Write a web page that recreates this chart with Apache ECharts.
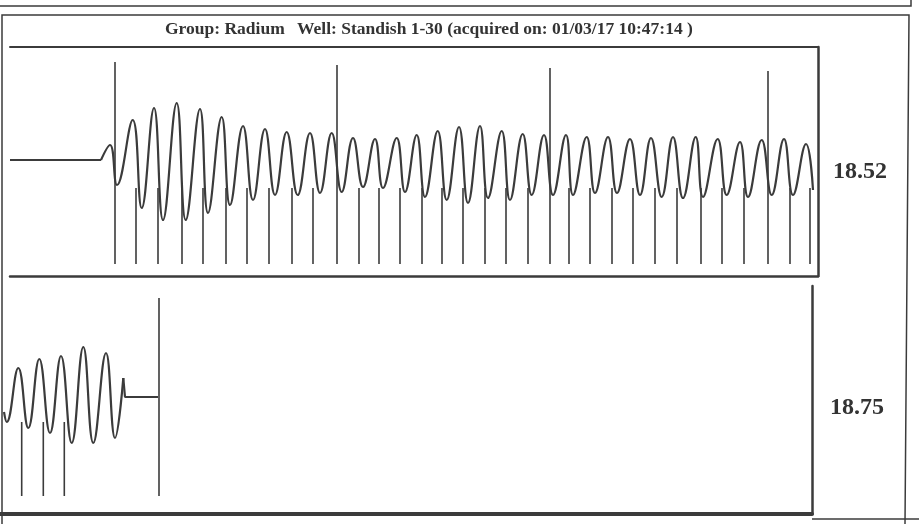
<!DOCTYPE html>
<html>
<head>
<meta charset="utf-8">
<script src="https://cdn.jsdelivr.net/npm/echarts@6/dist/echarts.min.js"></script>
<style>
  html, body { margin: 0; padding: 0; background: #fff; }
  #chart { width: 919px; height: 524px; }
</style>
</head>
<body>
<div id="chart"></div>
<script>
// Header
const titleGroup = 'Group: Radium';
const titleWell = 'Well: Standish 1-30 (acquired on: 01/03/17 10:47:14 )';
const depthLabels = ['18.52', '18.75'];

// Trace 1 (18.52) - flat lead-in, then extremes of the waveform (time, amplitude)
const topFlatTimes = [10, 101];
const topFlatAmps = [0, 0];
const topWaveTimes = [101, 110, 117, 132.7, 141.7, 154, 163, 176.7, 185.7, 200, 208, 221.7, 230, 243, 253,
  265, 275, 286.7, 297.7, 310, 320, 331.7, 341.7, 353, 363, 375, 383, 396.7, 405, 416.7, 425, 437.7, 446.7,
  459, 468, 480, 488, 501.7, 510, 522.7, 531.7, 544, 553, 566, 573, 586.7, 595, 608, 617, 630, 640, 651,
  661.7, 673, 683, 695.7, 703, 717.7, 726.7, 740, 748, 761.7, 771.7, 784, 793, 806, 813];
const topWaveAmps = [0, 15, -25, 40, -48, 52, -60, 57, -60, 51, -53, 43, -45, 34, -40,
  31, -35, 28, -35, 27, -33, 27, -32, 22, -27, 21, -28, 22, -32, 25, -37, 29, -40,
  33, -43, 34, -38, 29, -40, 26, -35, 25, -35, 25, -35, 23, -33, 23, -33, 21, -35, 22,
  -37, 23, -38, 23, -37, 21, -35, 18, -37, 20, -35, 21, -35, 16, -30];
// timing marks of trace 1
const topShortMarks = [136, 158, 182, 203, 226, 247, 269, 292, 313, 359, 379, 400, 422, 442, 463, 485,
  506, 528, 569, 590, 612, 633, 655, 677, 701, 722, 744, 790, 810];
const topTallMarks = [115, 337, 550, 768];
const topTallMarkTops = [98, 95, 92, 89];
const topMarkTop = -28;
const topMarkBottom = -104;

// Trace 2 (18.75)
const bottomWaveTimes = [4, 6.7, 18.3, 28.3, 39.3, 50, 61, 71.7, 83.3, 93.3, 106, 115, 123.3];
const bottomWaveAmps = [-15, -25, 29, -31, 38, -36, 41, -46, 50, -46, 44, -41, 19];
const bottomTailTimes = [125, 158];
const bottomTailAmps = [0, 0];
const bottomShortMarks = [21.7, 43.3, 64.3];
const bottomTallMarks = [159];
const bottomTallMarkTops = [99];
const bottomMarkTop = -25;
const bottomMarkBottom = -99;

const INK = '#3b3b3b';

function pairs(xs, ys) {
  return xs.map((x, i) => [x, ys[i]]);
}

// vertical strokes as one broken line: top, bottom, gap
function markData(xs, tops, bottom) {
  const out = [];
  xs.forEach((x, i) => {
    const top = Array.isArray(tops) ? tops[i] : tops;
    out.push([x, top], [x, bottom], [x, null]);
  });
  return out;
}

// plain axis that only draws its line (the trace box edges)
function edgeAxis(gridIndex, min, max, position, width) {
  return {
    type: 'value', gridIndex: gridIndex, min: min, max: max, position: position,
    axisLine: { show: true, onZero: false, lineStyle: { color: INK, width: width } },
    axisTick: { show: false }, axisLabel: { show: false }, splitLine: { show: false }
  };
}

const chart = echarts.init(document.getElementById('chart'));

const lineBase = {
  type: 'line',
  symbol: 'none',
  silent: true,
  animation: false,
  connectNulls: false
};

const titleFont = 'bold 17.5px "Liberation Serif"';

const option = {
  animation: false,
  grid: [
    { left: 10, top: 47, width: 808, height: 229 },
    { left: 0, top: 286, width: 812, height: 228 }
  ],
  xAxis: [
    edgeAxis(0, 10, 818, 'bottom', 2.5),
    edgeAxis(0, 10, 818, 'top', 2),
    edgeAxis(1, 0, 812, 'bottom', 4)
  ],
  yAxis: [
    edgeAxis(0, -116, 113, 'right', 2.5),
    edgeAxis(1, -117, 111, 'right', 2.5)
  ],
  series: [
    Object.assign({}, lineBase, {
      xAxisIndex: 0, yAxisIndex: 0,
      data: pairs(topFlatTimes, topFlatAmps),
      lineStyle: { color: INK, width: 2.2 }
    }),
    Object.assign({}, lineBase, {
      xAxisIndex: 0, yAxisIndex: 0, smooth: 0.45,
      data: pairs(topWaveTimes, topWaveAmps),
      lineStyle: { color: INK, width: 2.2 }
    }),
    Object.assign({}, lineBase, {
      xAxisIndex: 0, yAxisIndex: 0,
      data: markData(topShortMarks, topMarkTop, topMarkBottom)
        .concat(markData(topTallMarks, topTallMarkTops, topMarkBottom)),
      lineStyle: { color: INK, width: 1.6 }
    }),
    Object.assign({}, lineBase, {
      xAxisIndex: 2, yAxisIndex: 1, smooth: 0.45,
      data: pairs(bottomWaveTimes, bottomWaveAmps),
      lineStyle: { color: INK, width: 2.2 }
    }),
    Object.assign({}, lineBase, {
      xAxisIndex: 2, yAxisIndex: 1,
      data: [[bottomWaveTimes[bottomWaveTimes.length - 1], bottomWaveAmps[bottomWaveAmps.length - 1]]]
        .concat(pairs(bottomTailTimes, bottomTailAmps)),
      lineStyle: { color: INK, width: 2.2 }
    }),
    Object.assign({}, lineBase, {
      xAxisIndex: 2, yAxisIndex: 1,
      data: markData(bottomShortMarks, bottomMarkTop, bottomMarkBottom)
        .concat(markData(bottomTallMarks, bottomTallMarkTops, bottomMarkBottom)),
      lineStyle: { color: INK, width: 1.6 }
    })
  ],
  graphic: [
    // scanned page frame
    { type: 'polyline', silent: true, shape: { points: [[0, 6], [911, 6], [911, 0]] },
      style: { stroke: INK, lineWidth: 1.5, fill: null } },
    { type: 'polyline', silent: true, shape: { points: [[2, 524], [2, 15], [909, 15], [905, 524]] },
      style: { stroke: INK, lineWidth: 1.5, fill: null } },
    { type: 'line', silent: true, shape: { x1: 812, y1: 519, x2: 919, y2: 519 },
      style: { stroke: INK, lineWidth: 1.5 } },
    // header
    { type: 'text', silent: true, left: 165, top: 20,
      style: { text: titleGroup, font: titleFont, fill: '#333' } },
    { type: 'text', silent: true, left: 297, top: 20,
      style: { text: titleWell, font: titleFont, fill: '#333' } },
    // depth of each trace
    { type: 'text', silent: true, left: 833, top: 160,
      style: { text: depthLabels[0], font: 'bold 24px "Liberation Serif"', fill: '#333' } },
    { type: 'text', silent: true, left: 830, top: 396,
      style: { text: depthLabels[1], font: 'bold 24px "Liberation Serif"', fill: '#333' } }
  ]
};

chart.setOption(option);
</script>
</body>
</html>
